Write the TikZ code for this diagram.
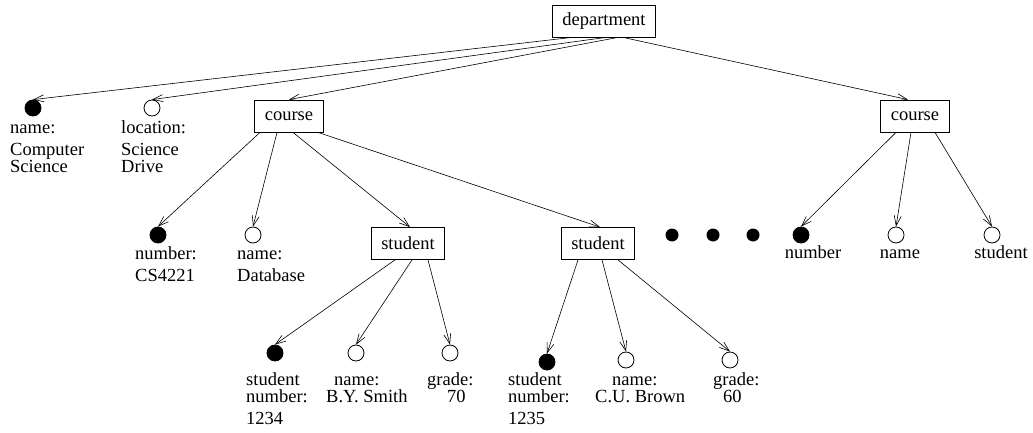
\documentclass[tikz,border=0pt]{standalone}
\usepackage{fontspec}
\setmainfont{Liberation Serif}
\usetikzlibrary{arrows.meta}

\tikzset{
  box/.style={draw, line width=0.8pt, inner xsep=10pt, inner ysep=0pt, minimum height=32pt},
  key/.style={draw, fill=black, circle, inner sep=0pt, minimum size=16pt, line width=0.8pt},
  attr/.style={draw, circle, inner sep=0pt, minimum size=16pt, line width=0.8pt},
  more/.style={fill=black, circle, inner sep=0pt, minimum size=13pt},
  lab/.style={inner sep=0pt, align=left, anchor=base west},
  arr/.style={line width=0.6pt, -{Straight Barb[length=10pt,width=7pt]}}
}

\begin{document}
\begin{tikzpicture}[x=1pt, y=-1pt, font=\fontsize{18.5}{17}\selectfont]
\useasboundingbox (0,0) rectangle (1033,433);

% root and first level
\node[box] (dept) at (604,21) {department};
\node[key] (cname) at (33,108) {};
\node[attr] (cloc) at (152,108) {};
\node[box] (crs1) at (289,116) {course};
\node[box] (crs2) at (915,116) {course};
\node[lab] (lname) at (10,172) {name:\\[5pt]Computer\\Science};
\node[lab] (lloc) at (121,172) {location:\\[5pt]Science\\Drive};

% second level
\node[key] (num1) at (158,235) {};
\node[attr] (cnm1) at (253,235) {};
\node[box] (stu1) at (408,243.5) {student};
\node[box] (stu2) at (598,243.5) {student};
\node[more] (dot1) at (672,235) {};
\node[more] (dot2) at (713,235) {};
\node[more] (dot3) at (753,235) {};
\node[key] (num2) at (801,235) {};
\node[attr] (cnm2) at (896,235) {};
\node[attr] (cstu) at (992,235) {};
\node[lab] (lnum1) at (135,281) {number:\\[5pt]CS4221};
\node[lab] (lcnm1) at (237,281) {name:\\[5pt]Database};
\node[inner sep=0pt, anchor=base] (lnum2) at (813,258) {number};
\node[inner sep=0pt, anchor=base] (lcnm2) at (900,258) {name};
\node[inner sep=0pt, anchor=base] (lcstu) at (1001,258) {student};

% third level
\node[key] (sno1) at (275,353) {};
\node[attr] (snm1) at (356,353) {};
\node[attr] (sgr1) at (450,353) {};
\node[key] (sno2) at (547,362) {};
\node[attr] (snm2) at (626,360) {};
\node[attr] (sgr2) at (730,360) {};
\node[lab] (lsno1) at (246,424) {student\\number:\\[5pt]1234};
\node[lab] (lsnm1) at (326,402) {\hspace*{8pt}name:\\B.Y. Smith};
\node[lab] (lsgr1) at (427,402) {grade:\\\hspace*{20pt}70};
\node[lab] (lsno2) at (508,424) {student\\number:\\[5pt]1235};
\node[lab] (lsnm2) at (595,402) {\hspace*{17pt}name:\\C.U. Brown};
\node[lab] (lsgr2) at (713,402) {grade:\\\hspace*{10pt}60};

% edges
\draw[arr] ([xshift=-32pt]dept.south) -- (cname.north);
\draw[arr] ([xshift=2pt]dept.south) -- (cloc.north);
\draw[arr] ([xshift=14pt]dept.south) -- (crs1.north);
\draw[arr] ([xshift=19pt]dept.south) -- ([xshift=-7pt]crs2.north);

\draw[arr] ([xshift=-29pt]crs1.south) -- (num1.north);
\draw[arr] ([xshift=-12pt]crs1.south) -- (cnm1.north);
\draw[arr] ([xshift=4pt]crs1.south) -- ([xshift=2pt]stu1.north);
\draw[arr] ([xshift=29pt]crs1.south) -- ([xshift=2pt]stu2.north);

\draw[arr] ([xshift=-19pt]crs2.south) -- (num2.north);
\draw[arr] ([xshift=-4pt]crs2.south) -- (cnm2.north);
\draw[arr] ([xshift=20pt]crs2.south) -- (cstu.north);

\draw[arr] ([xshift=-13pt]stu1.south) -- (sno1.north);
\draw[arr] ([xshift=4pt]stu1.south) -- (snm1.north);
\draw[arr] ([xshift=20pt]stu1.south) -- (sgr1.north);

\draw[arr] ([xshift=-20pt]stu2.south) -- (sno2.north);
\draw[arr] ([xshift=4pt]stu2.south) -- (snm2.north);
\draw[arr] ([xshift=20pt]stu2.south) -- (sgr2.north);
\end{tikzpicture}
\end{document}
